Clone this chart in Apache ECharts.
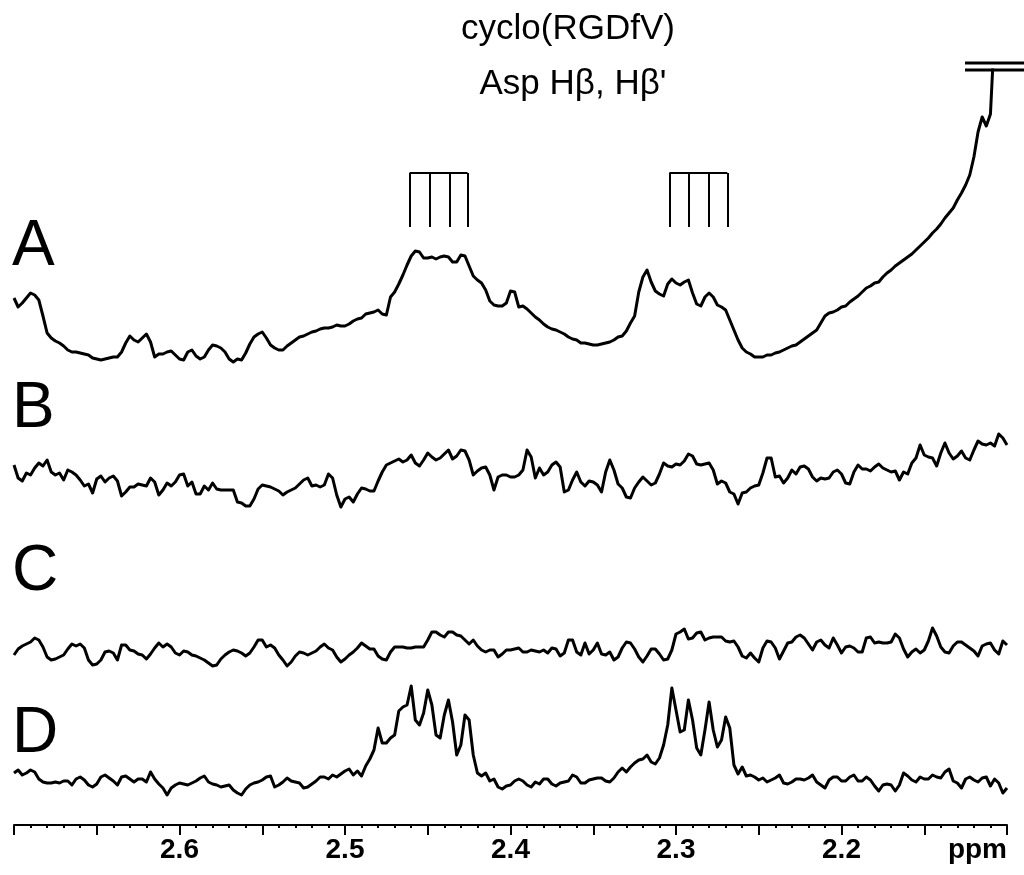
<!DOCTYPE html>
<html>
<head>
<meta charset="utf-8">
<title>cyclo(RGDfV) Asp Hβ, Hβ'</title>
<script src="https://cdn.jsdelivr.net/npm/echarts@6/dist/echarts.min.js"></script>
<style>
  html, body { margin: 0; padding: 0; background: #fff; }
  #chart { width: 1024px; height: 875px; }
</style>
</head>
<body>
<div id="chart"></div>
<script>
// chemical shift sampling of all four spectra (ppm, descending)
const PPM_START = 2.7
const PPM_STEP = 0.0025

// axis labels shown under the major ticks
const TICK_LABELS = ['2.6', '2.5', '2.4', '2.3', '2.2']
const UNIT_LABEL = 'ppm'

// multiplet line positions (ppm) drawn above spectrum A
const MULTIPLET_1 = [2.461, 2.449, 2.437, 2.426]
const MULTIPLET_2 = [2.304, 2.292, 2.280, 2.269]

// spectrum A (last points go off scale)
const traceA = [62, 53, 57, 62, 67, 65, 60, 44, 27, 22, 19, 17, 14, 10, 8, 8, 7, 6, 5, 2,
  1, 0, 1, 2, 3, 3, 8, 17, 24, 20, 18, 22, 26, 18, 3, 6, 6, 8, 9, 5,
  1, 0, 8, 10, 4, 1, 3, 10, 15, 14, 12, 8, 1, -2, 1, 0, 7, 16, 23, 26,
  28, 22, 15, 12, 10, 10, 14, 17, 20, 23, 24, 26, 28, 29, 31, 32, 32, 33, 35, 34,
  34, 36, 39, 41, 42, 46, 47, 48, 50, 46, 45, 63, 68, 76, 85, 95, 104, 109, 108, 102,
  102, 103, 101, 103, 104, 103, 98, 98, 105, 104, 94, 84, 80, 77, 70, 59, 55, 54, 54, 57,
  69, 68, 53, 54, 51, 47, 43, 40, 36, 33, 31, 30, 28, 26, 23, 21, 20, 17, 17, 16,
  15, 15, 16, 17, 18, 20, 23, 24, 29, 37, 44, 68, 83, 90, 78, 69, 66, 64, 76, 81,
  77, 75, 78, 80, 67, 56, 54, 63, 67, 63, 55, 53, 50, 40, 30, 20, 12, 8, 6, 3,
  3, 3, 5, 5, 7, 8, 10, 12, 14, 15, 18, 21, 24, 27, 30, 37, 44, 47, 48, 50,
  53, 54, 58, 61, 64, 68, 72, 74, 77, 78, 83, 87, 90, 94, 97, 100, 103, 106, 110, 114,
  118, 122, 127, 131, 136, 142, 147, 152, 160, 167, 175, 185, 203, 228, 243, 234, 246, 330, 500, 500,
  500]

const traceB = [25, 12, 9, 17, 15, 22, 27, 24, 30, 18, 15, 17, 10, 20, 18, 15, 10, 4, 6, -3,
  11, 14, 8, 12, 14, 9, -6, -2, 3, 3, 6, 5, 4, 12, 8, -5, 0, 7, 4, 8,
  15, 16, 4, 8, -4, -4, 4, 0, 7, 1, 0, 0, 0, 0, -12, -13, -16, -16, -9, 1,
  5, 4, 3, 1, -1, -5, -2, 0, 2, 6, 10, 12, 4, 5, 3, 5, 16, 12, -5, -17,
  -9, -7, -12, -4, 2, 1, -1, -1, 9, 18, 25, 27, 29, 31, 28, 30, 35, 27, 24, 30,
  37, 33, 30, 32, 36, 40, 31, 34, 40, 39, 30, 15, 19, 22, 23, 15, 0, 13, 15, 15,
  13, 13, 15, 20, 40, 33, 12, 22, 15, 18, 25, 28, 23, -2, 0, 10, 18, 8, 4, 9,
  8, 5, -2, 18, 30, 20, 6, 2, -7, -8, 2, 8, 13, 9, 5, 7, 16, 27, 24, 23,
  26, 25, 29, 36, 34, 26, 25, 26, 27, 20, 6, 9, 7, -2, -4, -14, -3, -2, 2, 4,
  5, 17, 32, 32, 13, 14, 7, 12, 20, 16, 23, 24, 21, 13, 9, 12, 11, 12, 18, 20,
  16, 7, 6, 18, 25, 21, 21, 19, 23, 26, 22, 20, 18, 19, 10, 18, 16, 27, 32, 45,
  35, 33, 32, 24, 37, 47, 37, 31, 34, 39, 32, 30, 40, 49, 46, 45, 47, 44, 56, 52,
  45]

const traceC = [-5, 1, 4, 6, 8, 12, 10, 3, -7, -10, -9, -7, -5, 1, 6, 4, 6, 2, -10, -15,
  -14, -10, -2, -1, -3, -10, 5, 5, 0, -1, -4, -5, -9, -4, 2, 7, 3, 6, 3, -3,
  -5, -1, -2, -5, -6, -8, -10, -13, -16, -15, -9, -5, -2, 0, -1, -3, -6, -3, 3, 10,
  10, 3, 5, 2, -5, -10, -16, -12, -6, -2, -3, -5, -3, -1, 3, 6, 2, 0, -7, -12,
  -9, -5, -2, 2, 7, 4, 1, 1, -6, -9, -10, -2, 3, 3, 3, 2, 2, 3, 3, 3,
  10, 18, 18, 15, 13, 18, 18, 15, 14, 10, 6, 10, 4, 0, -2, 0, 0, -7, -4, 0,
  0, 1, 2, -2, -2, 0, -1, -2, 0, -3, 2, 1, -6, -3, 10, 10, -2, -5, 7, -4,
  0, 7, -4, -5, -2, -10, -7, 2, 8, 7, 1, -7, -12, -6, 1, 1, -4, -10, -9, 0,
  16, 18, 21, 11, 12, 17, 18, 10, 12, 13, 13, 13, 9, 8, 9, 3, -6, -8, -3, -8,
  -12, 2, 9, 8, 2, -9, -1, 7, 8, 13, 15, 12, 6, 0, 8, 10, 5, 2, 12, 5,
  -3, 3, 4, 2, -2, -2, 12, 13, 7, 8, 7, 7, 8, 16, 12, 1, -7, -2, 1, -3,
  0, 9, 22, 14, 3, -2, -3, 4, 8, 8, 5, 2, -1, -6, 4, 6, 7, 0, -4, 9,
  5]

const traceD = [7, 10, 5, 7, 10, 8, 1, -2, -3, -3, -2, -3, -1, -1, -5, 1, 3, 0, -5, -7,
  -4, 3, 5, 2, -1, -5, 3, 4, 1, -2, 1, 1, -2, 8, 1, -4, -8, -15, -8, -5,
  -3, -4, -5, -3, -1, 2, 4, -2, -4, -5, -7, -6, -5, -10, -13, -15, -9, -5, -3, -2,
  0, 3, 4, -7, -5, -2, 2, -1, -2, -3, -8, -7, -4, -1, 3, 3, 1, 5, 3, 6,
  9, 11, 5, 9, 4, 14, 21, 30, 52, 37, 37, 42, 45, 69, 73, 75, 94, 60, 55, 67,
  90, 75, 45, 42, 65, 80, 58, 25, 35, 65, 60, 25, 7, 4, 7, -1, 1, -7, -9, -6,
  -5, -1, 1, -1, -5, -7, -2, -4, 1, 1, -4, -6, -3, -2, -1, 5, 3, -3, -3, 0,
  1, 2, 2, -1, -2, 2, 8, 12, 8, 13, 17, 20, 21, 25, 18, 16, 22, 35, 55, 92,
  70, 48, 50, 80, 60, 32, 25, 50, 78, 50, 33, 40, 63, 52, 15, 6, 13, 4, 5, 3,
  0, 2, -2, 0, 2, 5, -3, -4, -2, 1, 1, 0, 2, 5, -2, -5, -8, 0, 3, 3,
  -1, -1, 3, 5, -1, -1, 3, 0, -6, -11, -5, -4, -5, -11, -5, 7, 4, 0, -2, 3,
  1, 1, 5, 3, 2, 8, 11, -1, -3, -8, 1, 3, 0, -2, 2, 3, -6, 1, -3, -13,
  -8]

// 把强度数组转成 [ppm, 强度] 点对
function toPairs(values) {
  return values.map((v, i) => [+(PPM_START - i * PPM_STEP).toFixed(4), v])
}

// 多重峰标记线
function multipletLines(positions, y0, y1) {
  const lines = positions.map(p => [{ coord: [p, y0] }, { coord: [p, y1] }])
  lines.push([{ coord: [positions[0], y1] }, { coord: [positions[positions.length - 1], y1] }])
  return lines
}

const chart = echarts.init(document.getElementById('chart'), null, { renderer: 'canvas' })

const FONT = 'Liberation Sans, Arial, sans-serif'
const lineStyle = { color: '#000', width: 3, join: 'round' }

// each spectrum has its own grid; y range chosen so that 1 unit is 1 px
const grids = [
  { left: 14, right: 17, top: 70, height: 310 },
  { left: 14, right: 17, top: 420, height: 100 },
  { left: 14, right: 17, top: 600, height: 90 },
  { left: 14, right: 17, top: 660, height: 165 }
]
const yRanges = [[-20, 290], [-30, 70], [-40, 50], [-45, 120]]

const xAxes = grids.map((g, i) => {
  const shown = i === 3
  return {
    type: 'value',
    gridIndex: i,
    min: 2.1,
    max: 2.7,
    interval: 0.05,
    inverse: true,
    show: shown,
    splitLine: { show: false },
    axisLine: { show: shown, onZero: false, lineStyle: { color: '#000', width: 2 } },
    axisTick: { show: shown, length: 10, lineStyle: { color: '#000', width: 2 } },
    minorTick: { show: shown, splitNumber: 5, length: 3, lineStyle: { color: '#000', width: 2 } },
    axisLabel: {
      show: shown,
      margin: 11,
      color: '#000',
      fontSize: 28,
      fontWeight: 'bold',
      fontFamily: FONT,
      showMinLabel: true,
      showMaxLabel: true,
      alignMinLabel: 'right',
      formatter: function (v) {
        if (Math.abs(v - 2.1) < 1e-6) return UNIT_LABEL
        const t = v.toFixed(1)
        if (Math.abs(v - Number(t)) < 1e-6 && TICK_LABELS.indexOf(t) >= 0) return t
        return ''
      }
    }
  }
})

const yAxes = yRanges.map((r, i) => ({
  type: 'value',
  gridIndex: i,
  min: r[0],
  max: r[1],
  show: false
}))

const traces = [traceA, traceB, traceC, traceD]
const series = traces.map((t, i) => ({
  type: 'line',
  xAxisIndex: i,
  yAxisIndex: i,
  data: toPairs(t),
  showSymbol: false,
  symbol: 'none',
  clip: true,
  lineStyle: lineStyle,
  silent: true
}))

// 多重峰标记挂在 A 谱上
series[0].markLine = {
  silent: true,
  symbol: 'none',
  label: { show: false },
  lineStyle: { color: '#000', width: 2, type: 'solid' },
  data: multipletLines(MULTIPLET_1, 133, 187).concat(multipletLines(MULTIPLET_2, 133, 187))
}

const panelLetters = [['A', 247], ['B', 409], ['C', 572], ['D', 734]]

const option = {
  animation: false,
  backgroundColor: '#fff',
  title: [
    {
      text: 'cyclo(RGDfV)',
      left: 563,
      top: 7,
      textAlign: 'center',
      textStyle: { fontSize: 35, fontWeight: 'normal', color: '#000', fontFamily: FONT }
    },
    {
      text: "Asp Hβ, Hβ'",
      left: 568,
      top: 62,
      textAlign: 'center',
      textStyle: { fontSize: 35, fontWeight: 'normal', color: '#000', fontFamily: FONT }
    }
  ],
  grid: grids,
  xAxis: xAxes,
  yAxis: yAxes,
  series: series,
  graphic: panelLetters.map(p => ({
    type: 'text',
    left: 12,
    top: p[1] - 32,
    style: { text: p[0], fontSize: 64, fontFamily: FONT, fill: '#000' }
  })).concat([
    // off-scale mark above the big peak of A
    { type: 'line', shape: { x1: 965, y1: 63, x2: 1024, y2: 63 }, style: { stroke: '#000', lineWidth: 3 } },
    { type: 'line', shape: { x1: 965, y1: 70, x2: 1024, y2: 70 }, style: { stroke: '#000', lineWidth: 3 } }
  ])
}

chart.setOption(option)
</script>
</body>
</html>
